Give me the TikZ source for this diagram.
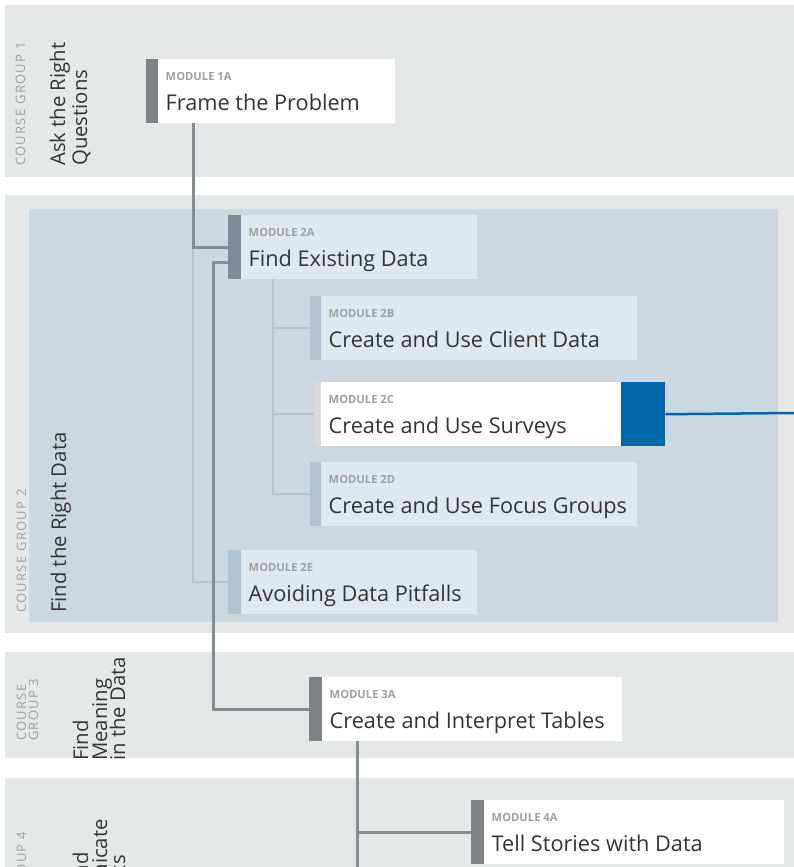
\documentclass[tikz,border=0pt]{standalone}
\usepackage{fontspec}
\setmainfont{Open Sans}
\newfontfamily\spacedcaps[LetterSpace=10]{Open Sans}
\definecolor{bandgray}{HTML}{E6E7E7}
\definecolor{regionblue}{HTML}{CBD8E0}
\definecolor{boxblue}{HTML}{DDE8F1}
\definecolor{bardark}{HTML}{808285}
\definecolor{barslate}{HTML}{7F8C97}
\definecolor{barlight}{HTML}{B3C3CE}
\definecolor{barpale}{HTML}{D9D9D9}
\definecolor{linkdark}{HTML}{858C92}
\definecolor{linklight}{HTML}{B5C4CE}
\definecolor{accent}{HTML}{0067AB}
\definecolor{titlecol}{HTML}{353535}
\definecolor{tagcol}{HTML}{A0A0A0}

% one module: bar, box, tag line and title
% #1 name, #2 bar x, #3 top y, #4 bar width, #5 box width,
% #6 bar colour, #7 box colour, #8 tag, #9 title
\newcommand\modblock[9]{%
  \node[barbox, fill=#6, minimum width=#4pt] (b#1) at (#2,#3) {};
  \node[modbox, fill=#7, minimum width=#5pt] (m#1) at (b#1.north east) {};
  \node[tagtext] (t#1) at ([xshift=7.5pt,yshift=-21.5pt]m#1.north west) {#8};
  \node[titletext] (n#1) at ([xshift=7.5pt,yshift=-51pt]m#1.north west) {#9};
}

\begin{document}
\begin{tikzpicture}[x=1pt,y=-1pt,
  barbox/.style={anchor=north west, inner sep=0, outer sep=0, minimum height=64pt},
  modbox/.style={anchor=north west, inner sep=0, outer sep=0, minimum height=64pt},
  tagtext/.style={anchor=base west, inner sep=0, text=tagcol, font=\fontsize{11.2}{13}\selectfont\bfseries},
  titletext/.style={anchor=base west, inner sep=0, text=titlecol, font=\fontsize{21.7}{26}\selectfont},
  grouptag/.style={rotate=90, inner sep=0, text=tagcol, font=\spacedcaps\fontsize{13}{15}\selectfont},
  grouptitle/.style={rotate=90, inner sep=0, text=titlecol, font=\fontsize{20.3}{24}\selectfont},
  link/.style={draw=linkdark, line width=3pt},
  sublink/.style={draw=linklight, line width=2.5pt},
]
\useasboundingbox (0,0) rectangle (794,867);
\clip (0,0) rectangle (794,867);
\fill[white] (0,0) rectangle (794,867);

% course group bands
\fill[bandgray] (5,5) rectangle (794,177);
\fill[bandgray] (5,195) rectangle (794,633);
\fill[regionblue] (29,209) rectangle (778,622);
\fill[bandgray] (5,652) rectangle (794,758);
\fill[bandgray] (5,778) rectangle (794,867);

% group labels, reading upwards
\node[grouptag, anchor=base west] (g1tag) at (25,166) {COURSE GROUP 1};
\node[grouptitle, anchor=base west] (g1a) at (65,166) {Ask the Right};
\node[grouptitle, anchor=base west] (g1b) at (87,166) {Questions};

\node[grouptag, anchor=base west] (g2tag) at (26,613) {COURSE GROUP 2};
\node[grouptitle, anchor=base west] (g2a) at (66,613) {Find the Right Data};

\node[grouptag, anchor=base west] (g3taga) at (26,741) {COURSE};
\node[grouptag, anchor=base west] (g3tagb) at (38,741) {GROUP 3};
\node[grouptitle, anchor=base west] (g3a) at (88,761) {Find};
\node[grouptitle, anchor=base west] (g3b) at (107,761) {Meaning};
\node[grouptitle, anchor=base west] (g3c) at (125,761) {in the Data};

\node[grouptag, anchor=base east] (g4tag) at (26,832) {COURSE GROUP 4};
\node[grouptitle, anchor=base east] (g4a) at (88,852) {Share and};
\node[grouptitle, anchor=base east] (g4b) at (107,819) {Communicate};
\node[grouptitle, anchor=base east] (g4c) at (125,855) {Results};

% modules
\modblock{1a}{146}{59}{12}{237}{bardark}{white}{MODULE 1A}{Frame the Problem}
\modblock{2a}{228}{215}{13}{236}{barslate}{boxblue}{MODULE 2A}{Find Existing Data}
\modblock{2b}{310}{296}{11}{316}{barlight}{boxblue}{MODULE 2B}{Create and Use Client Data}
\modblock{2c}{314}{382}{7}{300}{barpale}{white}{MODULE 2C}{Create and Use Surveys}
\modblock{2d}{310}{462}{11}{316}{barlight}{boxblue}{MODULE 2D}{Create and Use Focus Groups}
\modblock{2e}{228}{550}{13}{236}{barlight}{boxblue}{MODULE 2E}{Avoiding Data Pitfalls}
\modblock{3a}{309}{677}{13}{300}{bardark}{white}{MODULE 3A}{Create and Interpret Tables}
\modblock{4a}{471}{800}{13}{300}{bardark}{white}{MODULE 4A}{Tell Stories with Data}

% highlight marker on 2C
\node[anchor=north west, fill=accent, inner sep=0, minimum width=44pt, minimum height=64pt] (mark) at (m2c.north east) {};
\coordinate (markout) at (794,413);
\draw[accent, line width=2.5pt] (mark.east) -- (markout);

% light branches
\draw[sublink] ([xshift=35pt]m1a.south west) |- (b2e.west);
\draw[sublink] ([xshift=32pt]m2a.south west) |- (b2b.west);
\draw[sublink] ([xshift=32pt]m2a.south west) |- (b2c.west);
\draw[sublink] ([xshift=32pt]m2a.south west) |- (b2d.west);

% main path
\draw[link] ([xshift=35pt]m1a.south west) |- (b2a.west);
\draw[link] ([yshift=-15pt]b2a.west) -- ++(-15pt,0) |- (b3a.west);
\coordinate (down4) at (357,870);
\draw[link] ([xshift=35pt]m3a.south west) |- (b4a.west);
\draw[link] ([xshift=35pt]m3a.south west) -- (down4);
\end{tikzpicture}
\end{document}
